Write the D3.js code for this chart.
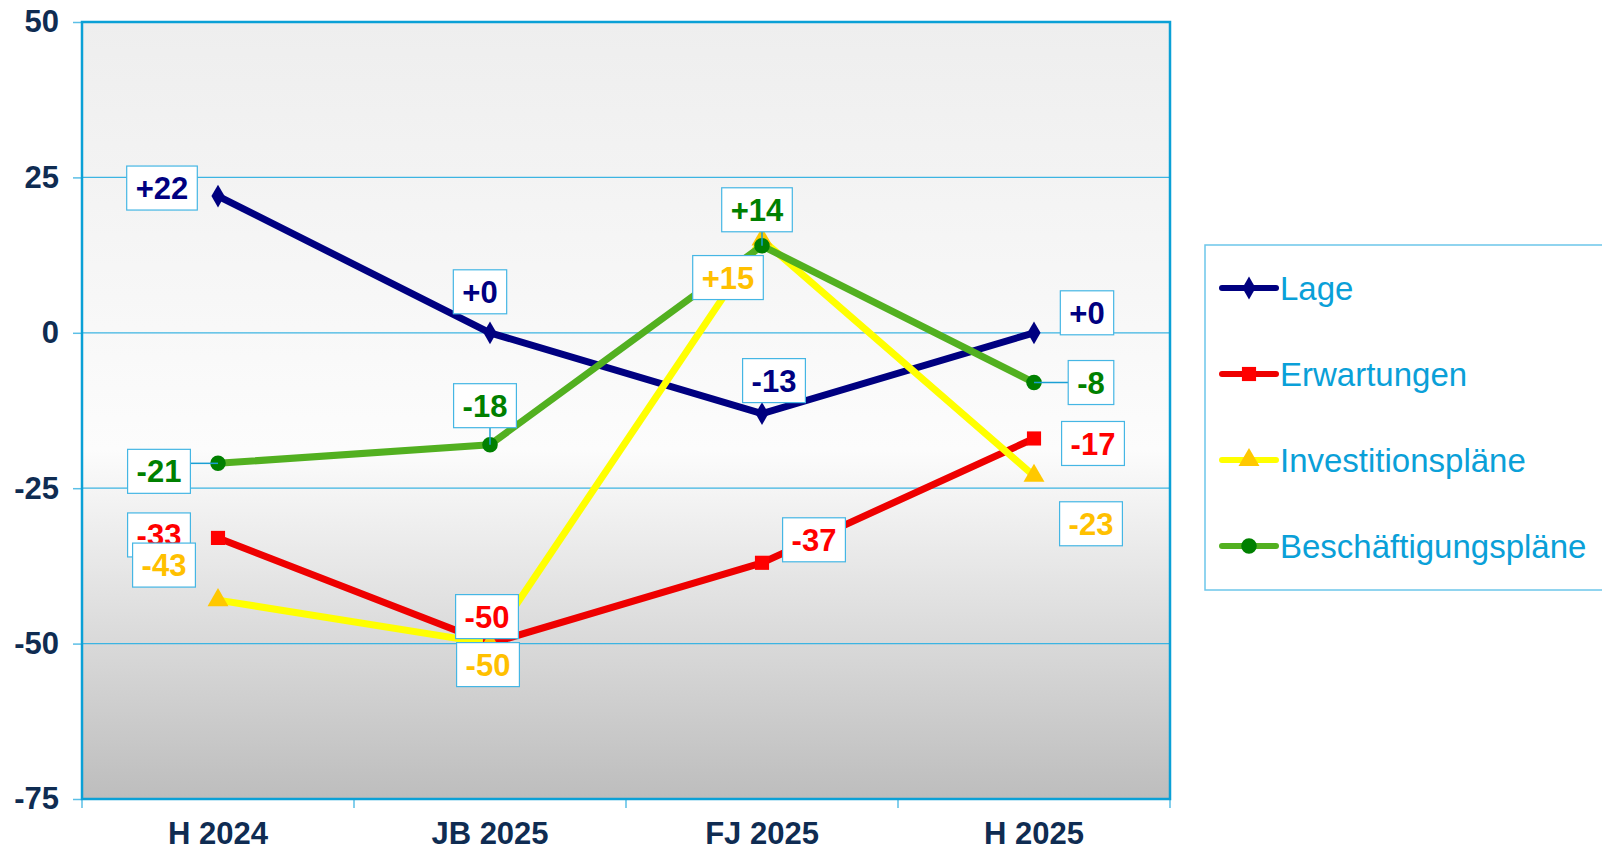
<!DOCTYPE html>
<html>
<head>
<meta charset="utf-8">
<script src="https://cdn.jsdelivr.net/npm/d3@7"></script>
<style>
  html, body { margin: 0; padding: 0; background: #fff; }
  svg { display: block; font-family: Arial, "Liberation Sans", sans-serif; }
</style>
</head>
<body>
<div id="chart"></div>
<script>
'use strict';

// data
var categories = ['H 2024', 'JB 2025', 'FJ 2025', 'H 2025'];
var seriesNames = ['Lage', 'Erwartungen', 'Investitionspläne', 'Beschäftigungspläne'];
var lage = [22, 0, -13, 0];
var erwartungen = [-33, -50, -37, -17];
var investitionen = [-43, -50, 15, -23];
var beschaeftigung = [-21, -18, 14, -8];
var yTicks = [50, 25, 0, -25, -50, -75];

// styling per series (line colour, marker colour, marker shape, label colour)
var styles = [
  {line: '#000080', marker: '#000080', shape: d3.symbolDiamond, size: 150, label: '#000080', leader: false},
  {line: '#ee0000', marker: '#ff0000', shape: d3.symbolSquare, size: 200, label: '#ff0000', leader: false},
  {line: '#ffff00', marker: '#ffc800', shape: d3.symbolTriangle, size: 190, label: '#ffc000', leader: false},
  {line: '#52b020', marker: '#008000', shape: d3.symbolCircle, size: 190, label: '#008000', leader: true}
];

// where the data labels sit, relative to their point (px)
var labelOffsets = [
  [[-56, -8], [-10, -41], [12, -33], [53, -20]],
  [[-59, -3], [-3, -27], [52, -23], [59, 5]],
  [[-54, -35], [-2, 21], [-34, 38], [57, 48]],
  [[-59, 8], [-5, -39], [-5, -36], [57, 0]]
];

var series = [lage, erwartungen, investitionen, beschaeftigung].map(function (values, i) {
  return {name: seriesNames[i], values: values, style: styles[i], offsets: labelOffsets[i]};
});

var width = 1602, height = 851;
var plot = {left: 82, top: 22, right: 1170, bottom: 799};
var axisColor = '#0aa0d6';
var textNavy = '#0f2c52';

var svg = d3.select('#chart').append('svg')
  .attr('width', width)
  .attr('height', height);

var x = d3.scaleBand().domain(categories).range([plot.left, plot.right]);
var y = d3.scaleLinear().domain([-75, 50]).range([plot.bottom, plot.top]);
var cx = function (c) { return x(c) + x.bandwidth() / 2; };

// plot background gradient
var grad = svg.append('defs').append('linearGradient')
  .attr('id', 'bg')
  .attr('x1', 0).attr('y1', 0).attr('x2', 0).attr('y2', 1);
grad.append('stop').attr('offset', '0').attr('stop-color', '#eeeeee');
grad.append('stop').attr('offset', '0.55').attr('stop-color', '#fcfcfc');
grad.append('stop').attr('offset', '1').attr('stop-color', '#bdbdbd');

svg.append('rect')
  .attr('x', plot.left).attr('y', plot.top)
  .attr('width', plot.right - plot.left)
  .attr('height', plot.bottom - plot.top)
  .attr('fill', 'url(#bg)');

// gridlines
svg.append('g')
  .selectAll('line')
  .data(yTicks.filter(function (t) { return t > -75 && t < 50; }))
  .join('line')
  .attr('x1', plot.left).attr('x2', plot.right)
  .attr('y1', function (d) { return y(d); })
  .attr('y2', function (d) { return y(d); })
  .attr('stroke', '#3cb4e2')
  .attr('stroke-width', 1.2);

// y axis
var yAxis = svg.append('g')
  .attr('transform', 'translate(' + plot.left + ',0)')
  .call(d3.axisLeft(y).tickValues(yTicks).tickSize(9).tickPadding(14)
    .tickFormat(function (d) { return String(d); }));
yAxis.select('.domain').remove();
yAxis.selectAll('.tick line').attr('stroke', '#5bbfe6').attr('stroke-width', 1.5);
yAxis.selectAll('.tick text')
  .attr('fill', textNavy)
  .attr('font-size', 31)
  .attr('font-weight', 'bold')
  .attr('font-family', 'Arial, "Liberation Sans", sans-serif');

// x axis: labels at band centres, ticks on band boundaries
var xAxis = svg.append('g')
  .attr('transform', 'translate(0,' + plot.bottom + ')')
  .call(d3.axisBottom(x).tickSize(0).tickPadding(23));
xAxis.select('.domain').remove();
xAxis.selectAll('.tick text')
  .attr('fill', textNavy)
  .attr('font-size', 31)
  .attr('font-weight', 'bold')
  .attr('font-family', 'Arial, "Liberation Sans", sans-serif');

var bounds = categories.map(function (c) { return x(c); }).concat([plot.right]);
svg.append('g')
  .selectAll('line')
  .data(bounds)
  .join('line')
  .attr('x1', function (d) { return d; }).attr('x2', function (d) { return d; })
  .attr('y1', plot.bottom).attr('y2', plot.bottom + 9)
  .attr('stroke', '#5bbfe6')
  .attr('stroke-width', 1.5);

// plot border
svg.append('rect')
  .attr('x', plot.left).attr('y', plot.top)
  .attr('width', plot.right - plot.left)
  .attr('height', plot.bottom - plot.top)
  .attr('fill', 'none')
  .attr('stroke', axisColor)
  .attr('stroke-width', 2.5);

// lines
var line = d3.line()
  .x(function (d, i) { return cx(categories[i]); })
  .y(function (d) { return y(d); });

svg.append('g')
  .selectAll('path')
  .data(series)
  .join('path')
  .attr('d', function (s) { return line(s.values); })
  .attr('fill', 'none')
  .attr('stroke', function (s) { return s.style.line; })
  .attr('stroke-width', 7)
  .attr('stroke-linejoin', 'round');

// markers
series.forEach(function (s) {
  svg.append('g')
    .selectAll('path')
    .data(s.values)
    .join('path')
    .attr('transform', function (d, i) {
      return 'translate(' + cx(categories[i]) + ',' + y(d) + ')';
    })
    .attr('d', d3.symbol().type(s.style.shape).size(s.style.size))
    .attr('fill', s.style.marker);
});

// data labels (boxes + optional leader lines)
var labelLayer = svg.append('g');
series.forEach(function (s) {
  s.values.forEach(function (v, i) {
    var px = cx(categories[i]), py = y(v);
    var lx = px + s.offsets[i][0], ly = py + s.offsets[i][1];
    var g = labelLayer.append('g');
    var txt = (v >= 0 ? '+' : '') + v;
    var t = g.append('text')
      .attr('x', lx).attr('y', ly)
      .attr('dy', '0.36em')
      .attr('text-anchor', 'middle')
      .attr('font-size', 31)
      .attr('font-weight', 'bold')
      .attr('fill', s.style.label)
      .text(txt);
    var w = t.node().getComputedTextLength() + 18, h = 44;
    var bx = lx - w / 2, by = ly - h / 2;
    if (s.style.leader) {
      // nearest point of the box to the marker
      var ex = Math.max(bx, Math.min(px, bx + w));
      var ey = Math.max(by, Math.min(py, by + h));
      g.insert('line', 'text')
        .attr('x1', px).attr('y1', py).attr('x2', ex).attr('y2', ey)
        .attr('stroke', '#1a9fd4').attr('stroke-width', 1.5);
    }
    g.insert('rect', 'text')
      .attr('x', bx).attr('y', by)
      .attr('width', w).attr('height', h)
      .attr('fill', '#fff')
      .attr('stroke', '#45b6e4')
      .attr('stroke-width', 1.2);
  });
});

// legend
var legend = svg.append('g');
legend.append('rect')
  .attr('x', 1205).attr('y', 245)
  .attr('width', 420).attr('height', 345)
  .attr('fill', '#fff')
  .attr('stroke', '#6cc6ea')
  .attr('stroke-width', 1.5);

var items = legend.selectAll('g.item')
  .data(series)
  .join('g')
  .attr('class', 'item')
  .attr('transform', function (d, i) { return 'translate(1222,' + (288 + i * 86) + ')'; });

items.append('line')
  .attr('x1', 0).attr('x2', 54)
  .attr('stroke', function (d) { return d.style.line; })
  .attr('stroke-width', 6)
  .attr('stroke-linecap', 'round');
items.append('path')
  .attr('transform', 'translate(27,0)')
  .attr('d', function (d) { return d3.symbol().type(d.style.shape).size(d.style.size)(); })
  .attr('fill', function (d) { return d.style.marker; });
items.append('text')
  .attr('x', 58)
  .attr('dy', '0.36em')
  .attr('font-size', 33)
  .attr('fill', '#0aa0d8')
  .text(function (d) { return d.name; });
</script>
</body>
</html>
